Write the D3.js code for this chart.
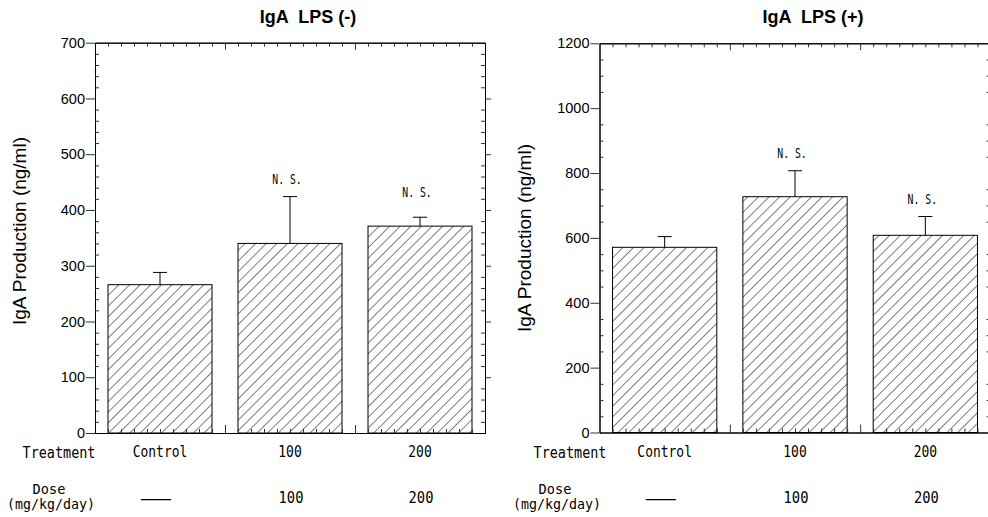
<!DOCTYPE html>
<html><head><meta charset="utf-8">
<script src="https://cdn.jsdelivr.net/npm/d3@7/dist/d3.min.js"></script>
<style>body{margin:0;background:#fff}</style></head>
<body>
<svg id="chart" width="988" height="517"></svg>
<script>
// ---- data ----
const categories = ["Control", "100", "200"];
const doseLabels = ["\u2014", "100", "200"];
const titles = ["IgA  LPS (-)", "IgA  LPS (+)"];
const yLabel = "IgA Production (ng/ml)";
const lpsNegMean = [266, 340, 371];
const lpsNegErr = [22, 84, 16];
const lpsNegSig = ["", "N. S.", "N. S."];
const lpsNegSigAt = [null, 447, 423];
const lpsPosMean = [571, 727, 608];
const lpsPosErr = [33, 80, 58];
const lpsPosSig = ["", "N. S.", "N. S."];
const lpsPosSigAt = [null, 846, 705];
const yTicksNeg = [0, 100, 200, 300, 400, 500, 600, 700];
const yTicksPos = [0, 200, 400, 600, 800, 1000, 1200];
const minorStepNeg = 20;
const minorStepPos = 50;

// ---- layout ----
const panels = [
  {title: titles[0], mean: lpsNegMean, err: lpsNegErr, sig: lpsNegSig, sigAt: lpsNegSigAt,
   ticks: yTicksNeg, minor: minorStepNeg, x0: 95, x1: 485, y0: 42.7, y1: 433,
   ylabCY: 231, treatCX: 59, doseCX: 49},
  {title: titles[1], mean: lpsPosMean, err: lpsPosErr, sig: lpsPosSig, sigAt: lpsPosSigAt,
   ticks: yTicksPos, minor: minorStepPos, x0: 599.5, x1: 990.5, y0: 43.3, y1: 432.5,
   ylabCY: 238, treatCX: 570, doseCX: 555}
];

const svg = d3.select("#chart");
const defs = svg.append("defs");
const hs = 7.5;
const pat = defs.append("pattern").attr("id", "hatch")
  .attr("patternUnits", "userSpaceOnUse").attr("width", hs).attr("height", hs)
  .attr("patternTransform", "rotate(45)");
pat.append("rect").attr("width", hs).attr("height", hs).attr("fill", "#fff");
pat.append("line").attr("x1", 0).attr("y1", 0).attr("x2", 0).attr("y2", hs)
  .attr("stroke", "#000").attr("stroke-width", 1);

const mono = "'DejaVu Sans Mono', 'Liberation Mono', monospace";
const sans = "'Liberation Sans', Arial, sans-serif";

function monoText(g, txt, x, y, size, charW) {
  const t = g.append("text").attr("x", x).attr("y", y).attr("text-anchor", "middle")
    .attr("font-family", mono).attr("font-size", size).attr("fill", "#000").text(txt);
  t.attr("textLength", charW * txt.length).attr("lengthAdjust", "spacingAndGlyphs");
  return t;
}

function styleAxis(g) {
  g.selectAll("path.domain").attr("stroke", "#000").attr("stroke-width", 1);
  g.selectAll(".tick line").attr("stroke", "#333").attr("stroke-width", 1);
  g.selectAll(".tick text").attr("font-family", sans).attr("font-size", 14.5).attr("fill", "#000");
}

panels.forEach(p => {
  const g = svg.append("g");
  const y = d3.scaleLinear().domain([0, p.ticks[p.ticks.length - 1]]).range([p.y1, p.y0]);
  const x = d3.scaleBand().domain(categories).range([p.x0, p.x1]).paddingInner(0.2).paddingOuter(0.1);
  const xs = d3.scaleLinear().domain([0, 30]).range([p.x0, p.x1]);
  const ymax = p.ticks[p.ticks.length - 1];
  const minorY = d3.range(0, ymax + 0.001, p.minor).filter(v => !p.ticks.includes(v));
  const minorX = d3.range(1, 30).filter(v => v % 10 !== 0);
  const majorX = [10, 20];

  // bars
  g.selectAll("rect.bar").data(p.mean).join("rect").attr("class", "bar")
    .attr("x", (d, i) => x(categories[i])).attr("width", x.bandwidth())
    .attr("y", d => y(d)).attr("height", d => y(0) - y(d))
    .attr("fill", "url(#hatch)").attr("stroke", "#000").attr("stroke-width", 1);

  // error bars
  const cap = 7;
  p.mean.forEach((m, i) => {
    const cx = x(categories[i]) + x.bandwidth() / 2;
    g.append("line").attr("x1", cx).attr("x2", cx).attr("y1", y(m)).attr("y2", y(m + p.err[i]))
      .attr("stroke", "#000").attr("stroke-width", 1);
    g.append("line").attr("x1", cx - cap).attr("x2", cx + cap).attr("y1", y(m + p.err[i])).attr("y2", y(m + p.err[i]))
      .attr("stroke", "#000").attr("stroke-width", 1);
    if (p.sig[i]) monoText(g, p.sig[i], cx - 3, y(p.sigAt[i]), 14, 5.9);
  });

  // left axis: major outward with labels, minor inward
  const la = g.append("g").attr("transform", `translate(${p.x0},0)`)
    .call(d3.axisLeft(y).tickValues(p.ticks).tickSize(9).tickSizeOuter(0).tickPadding(1).tickFormat(d3.format("d")));
  styleAxis(la);
  const lm = g.append("g").attr("transform", `translate(${p.x0},0)`)
    .call(d3.axisRight(y).tickValues(minorY).tickSize(4).tickSizeOuter(0).tickFormat(""));
  styleAxis(lm);
  // right axis: major outward, minor inward
  const ra = g.append("g").attr("transform", `translate(${p.x1},0)`)
    .call(d3.axisRight(y).tickValues(p.ticks.slice(1, -1)).tickSize(6).tickSizeOuter(0).tickFormat(""));
  styleAxis(ra);
  const rm = g.append("g").attr("transform", `translate(${p.x1},0)`)
    .call(d3.axisLeft(y).tickValues(minorY).tickSize(4).tickSizeOuter(0).tickFormat(""));
  styleAxis(rm);
  // top axis
  const ta = g.append("g").attr("transform", `translate(0,${p.y0})`)
    .call(d3.axisBottom(xs).tickValues(minorX).tickSize(4).tickSizeOuter(0).tickFormat(""));
  styleAxis(ta);
  const tM = g.append("g").attr("transform", `translate(0,${p.y0})`)
    .call(d3.axisBottom(xs).tickValues(majorX).tickSize(7).tickSizeOuter(0).tickFormat(""));
  styleAxis(tM);
  // bottom axis
  const ba = g.append("g").attr("transform", `translate(0,${p.y1})`)
    .call(d3.axisTop(xs).tickValues(minorX).tickSize(4).tickSizeOuter(0).tickFormat(""));
  styleAxis(ba);
  const bM = g.append("g").attr("transform", `translate(0,${p.y1})`)
    .call(d3.axisTop(xs).tickValues(majorX).tickSize(8).tickSizeOuter(0).tickFormat(""));
  styleAxis(bM);

  // title
  g.append("text").attr("x", (p.x0 + p.x1) / 2 + 18).attr("y", 23).attr("text-anchor", "middle")
    .attr("font-family", sans).attr("font-weight", "bold").attr("font-size", 18)
    .style("white-space", "pre").attr("fill", "#000").text(p.title);

  // y label
  g.append("text").attr("transform", `translate(${p.x0 - 69},${p.ylabCY}) rotate(-90)`)
    .attr("text-anchor", "middle").attr("font-family", sans).attr("font-size", 19)
    .attr("fill", "#000").text(yLabel);

  // category rows
  monoText(g, "Treatment", p.treatCX, 458, 16, 8.1);
  monoText(g, "Dose", p.doseCX, 494, 13.5, 8.2);
  monoText(g, "(mg/kg/day)", p.doseCX + 2, 509, 13.5, 8);
  categories.forEach((c, i) => {
    const cx = x(c) + x.bandwidth() / 2;
    monoText(g, c, cx, 457, 16, 7.8);
    if (i === 0) {
      monoText(g, doseLabels[i], cx - 4, 504, 16, 30);
    } else {
      monoText(g, doseLabels[i], cx + 1, 502.5, 16, 8.3);
    }
  });
});
</script>
</body></html>
